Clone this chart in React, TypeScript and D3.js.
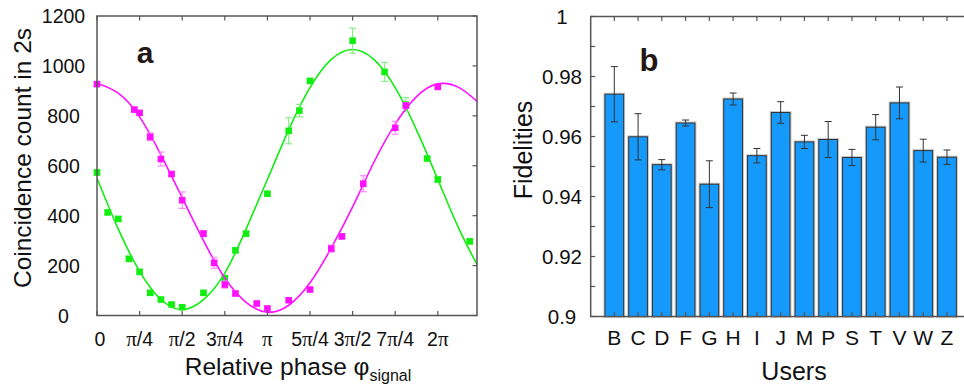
import React from 'react';
import * as d3 from 'd3';

// panel a — phase given in units of pi, counts per 2 s
const greenPhase = [0, 0.0625, 0.125, 0.1875, 0.25, 0.3125, 0.375, 0.4375, 0.5, 0.625, 0.75, 0.8125, 0.875, 1.0, 1.125, 1.1875, 1.25, 1.5, 1.6875, 1.8125, 1.9375, 2.0, 2.1875];
const greenCounts = [573, 413, 387, 227, 175, 91, 64, 44, 33, 91, 149, 261, 328, 488, 740, 821, 940, 1101, 976, 845, 629, 545, 297];
const greenErr = [10, 8, 8, 10, 8, 6, 6, 6, 6, 6, 12, 8, 8, 8, 52, 25, 8, 50, 38, 28, 8, 10, 8];

const pinkPhase = [0, 0.219, 0.25, 0.3125, 0.375, 0.4375, 0.5, 0.625, 0.6875, 0.75, 0.8125, 0.9375, 1.0, 1.125, 1.25, 1.375, 1.4375, 1.5625, 1.75, 1.8125, 2.0];
const pinkCounts = [927, 825, 812, 716, 627, 567, 462, 328, 211, 124, 88, 48, 28, 61, 104, 268, 317, 528, 752, 841, 916];
const pinkErr = [8, 8, 8, 15, 28, 8, 33, 12, 22, 14, 8, 6, 6, 6, 6, 14, 10, 32, 26, 10, 8];

// fitted curves, every pi/8
const fitPhase = [0, 0.125, 0.25, 0.375, 0.5, 0.625, 0.75, 0.875, 1.0, 1.125, 1.25, 1.375, 1.5, 1.625, 1.75, 1.875, 2.0, 2.125, 2.23];
const greenFit = [550, 346, 177, 64, 24, 64, 170, 346, 545, 744, 913, 1026, 1066, 1026, 913, 744, 545, 346, 205];
const pinkFit = [931, 891, 796, 644, 472, 300, 150, 53, 13, 41, 131, 271, 435, 614, 767, 877, 928, 913, 858];

const phaseTicks = [0, 0.25, 0.5, 0.75, 1, 1.25, 1.5, 1.75, 2];
const phaseLabels = ['0', 'π/4', 'π/2', '3π/4', 'π', '5π/4', '3π/2', '7π/4', '2π'];
const countTicks = [0, 200, 400, 600, 800, 1000, 1200];

// panel b
const users = ['B', 'C', 'D', 'F', 'G', 'H', 'I', 'J', 'M', 'P', 'S', 'T', 'V', 'W', 'Z'];
const fidelity = [0.9741, 0.9599, 0.9506, 0.9645, 0.9441, 0.9725, 0.9536, 0.968, 0.9582, 0.959, 0.953, 0.9631, 0.9712, 0.9553, 0.9531];
const fidelityErr = [0.0092, 0.0077, 0.0017, 0.001, 0.0078, 0.002, 0.0024, 0.0036, 0.0022, 0.006, 0.0027, 0.0042, 0.0053, 0.0038, 0.0024];
const fidTicks = [0.9, 0.92, 0.94, 0.96, 0.98, 1];
const fidLabels = ['0.9', '0.92', '0.94', '0.96', '0.98', '1'];
const fidMinor = [0.91, 0.93, 0.95, 0.97, 0.99];

const FONT = '"Liberation Sans", Arial, Helvetica, sans-serif';
const PI_FONT = '"Liberation Serif", "Times New Roman", serif';
const AXIS = '#555';

// split a label so the pi glyph gets the narrower serif face
const piLabel = (s: string) =>
  s.split(/(π)/).filter(p => p !== '').map((p, i) =>
    p === 'π' ? <tspan key={i} fontFamily={PI_FONT} fontSize={21}>π</tspan> : <tspan key={i}>{p}</tspan>
  );

const PanelA = () => {
  const x = d3.scaleLinear().domain([0, 2.23]).range([97, 477]);
  const y = d3.scaleLinear().domain([0, 1200]).range([315.5, 16]);
  const line = d3.line<number>().x((d, i) => x(fitPhase[i])).y(d => y(d)).curve(d3.curveNatural);

  const series = [
    { phase: greenPhase, counts: greenCounts, err: greenErr, fit: greenFit, color: '#11ee11', light: '#88ee88' },
    { phase: pinkPhase, counts: pinkCounts, err: pinkErr, fit: pinkFit, color: '#ff11ff', light: '#ff88ff' },
  ];

  return (
    <g>
      <defs>
        <clipPath id="clipA">
          <rect x={97} y={16} width={380} height={299.5} />
        </clipPath>
      </defs>
      {series.map((s, k) => (
        <g key={k}>
          <path d={line(s.fit) || ''} fill="none" stroke={s.color} strokeWidth={1.6} clipPath="url(#clipA)" />
          {s.counts.map((c, i) => {
            const cx = x(s.phase[i]);
            const e = s.err[i];
            return (
              <g key={i} stroke={s.light} strokeWidth={1.2}>
                <line x1={cx} x2={cx} y1={y(c - e)} y2={y(c + e)} />
                <line x1={cx - 3.5} x2={cx + 3.5} y1={y(c - e)} y2={y(c - e)} />
                <line x1={cx - 3.5} x2={cx + 3.5} y1={y(c + e)} y2={y(c + e)} />
              </g>
            );
          })}
          {s.counts.map((c, i) => (
            <rect key={i} x={x(s.phase[i]) - 3.3} y={y(c) - 3.3} width={6.6} height={6.6} fill={s.color} />
          ))}
        </g>
      ))}

      {/* frame */}
      <rect x={97} y={16} width={380} height={299.5} fill="none" stroke={AXIS} strokeWidth={1.5} />
      {phaseTicks.map((t, i) => (
        <g key={i}>
          <line x1={x(t)} x2={x(t)} y1={315.5} y2={311} stroke={AXIS} strokeWidth={1.2} />
          <line x1={x(t)} x2={x(t)} y1={16} y2={20.5} stroke={AXIS} strokeWidth={1.2} />
          <text x={x(t) + (i === 0 ? 3 : 0)} y={346} textAnchor="middle" fontSize={19.5} fontFamily={FONT} fill="#111">
            {piLabel(phaseLabels[i])}
          </text>
        </g>
      ))}
      {countTicks.map(t => (
        <g key={t}>
          <line x1={477} x2={472.5} y1={y(t)} y2={y(t)} stroke={AXIS} strokeWidth={1.2} />
          <text x={63.5} y={y(t)} dy="0.36em" textAnchor="middle" fontSize={19.5} fontFamily={FONT} fill="#111">
            {t}
          </text>
        </g>
      ))}

      <text x={145} y={63} textAnchor="middle" fontSize={30} fontWeight="bold" fontFamily={FONT} fill="#231815">a</text>

      <text transform="translate(31,158) rotate(-90)" textAnchor="middle" fontSize={24.5} fontFamily={FONT} fill="#111">
        Coincidence count in 2s
      </text>
      <text x={298} y={375} textAnchor="middle" fontSize={24.5} fontFamily={FONT} fill="#111">
        Relative phase φ<tspan fontSize={16} dy={6}>signal</tspan>
      </text>
    </g>
  );
};

const PanelB = () => {
  const x = d3.scaleBand<string>().domain(users).range([590.7, 970.6]).paddingInner(0.213).paddingOuter(0.6);
  const y = d3.scaleLinear().domain([0.9, 1]).range([316.5, 16.5]);
  const bw = x.bandwidth();

  return (
    <g>
      {users.map((u, i) => {
        const x0 = x(u) as number;
        const top = y(fidelity[i]);
        return (
          <g key={u}>
            <rect x={x0} y={top} width={bw} height={316.5 - top} fill="none" stroke="#c8c8c8" strokeWidth={3} />
            <rect x={x0} y={top} width={bw} height={316.5 - top} fill="#1599fb" stroke="#333" strokeWidth={1} />
          </g>
        );
      })}
      {users.map((u, i) => {
        const cx = (x(u) as number) + bw / 2;
        const lo = y(fidelity[i] - fidelityErr[i]);
        const hi = y(fidelity[i] + fidelityErr[i]);
        return (
          <g key={u} stroke="#333" strokeWidth={1}>
            <line x1={cx} x2={cx} y1={lo} y2={hi} />
            <line x1={cx - 3.5} x2={cx + 3.5} y1={lo} y2={lo} />
            <line x1={cx - 3.5} x2={cx + 3.5} y1={hi} y2={hi} />
          </g>
        );
      })}

      {/* frame */}
      <rect x={590.7} y={16.5} width={380} height={300} fill="none" stroke={AXIS} strokeWidth={1.5} />
      {users.map(u => {
        const cx = (x(u) as number) + bw / 2;
        return (
          <g key={u}>
            <line x1={cx} x2={cx} y1={316.5} y2={312} stroke={AXIS} strokeWidth={1.2} />
            <line x1={cx} x2={cx} y1={16.5} y2={21} stroke={AXIS} strokeWidth={1.2} />
            <text x={cx} y={344.5} textAnchor="middle" fontSize={21} fontFamily={FONT} fill="#111">{u}</text>
          </g>
        );
      })}
      {fidTicks.concat(fidMinor).map(t => (
        <line key={t} x1={590.7} x2={595.2} y1={y(t)} y2={y(t)} stroke={AXIS} strokeWidth={1.2} />
      ))}
      {fidTicks.map((t, i) => (
        <text key={t} x={562} y={y(t)} dy="0.36em" textAnchor="middle" fontSize={20.5} fontFamily={FONT} fill="#111">
          {fidLabels[i]}
        </text>
      ))}

      <text x={649} y={71} textAnchor="middle" fontSize={31} fontWeight="bold" fontFamily={FONT} fill="#231815">b</text>

      <text transform="translate(532,150) rotate(-90)" textAnchor="middle" fontSize={25} fontFamily={FONT} fill="#111">
        Fidelities
      </text>
      <text x={794} y={380} textAnchor="middle" fontSize={25} fontFamily={FONT} fill="#111">Users</text>
    </g>
  );
};

export default function App() {
  return (
    <svg width={964} height={390} style={{ position: 'absolute', left: 0, top: 0, background: '#fff' }}>
      <PanelA />
      <PanelB />
    </svg>
  );
}
